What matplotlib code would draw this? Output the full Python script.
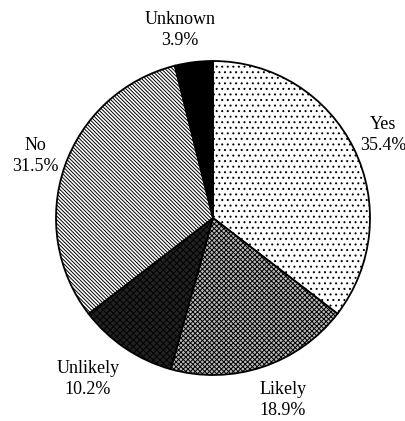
import matplotlib.pyplot as plt

plt.rcParams['font.family'] = ['Liberation Serif', 'DejaVu Serif']
plt.rcParams['hatch.linewidth'] = 0.7

categories = ['Yes', 'Likely', 'Unlikely', 'No', 'Unknown']
shares = [35.4, 18.9, 10.2, 31.5, 3.9]
pct_labels = ['35.4%', '18.9%', '10.2%', '31.5%', '3.9%']

fills = ['white', '#bbbbbb', '#222222', 'white', 'black']
hatches = ['...', 'xxxxxxx', 'xxxxx', '\\' * 9, '']

# label anchor positions in pixel coords (x, y from top)
label_pos = [(383, 135), (283, 400), (88, 379), (35, 156), (180, 30)]

H = 421
fig = plt.figure(figsize=(4.06, 4.21), dpi=100)
ax = fig.add_axes([0, 0, 1, 1])

wedges, _ = ax.pie(shares, startangle=90, counterclock=False, center=(213, H - 218),
                   radius=157, frame=True,
                   wedgeprops=dict(edgecolor='black', linewidth=1.3))
for w, fc, h in zip(wedges, fills, hatches):
    w.set_facecolor(fc)
    w.set_hatch(h)

ax.set_xlim(0, 406)
ax.set_ylim(0, H)
ax.set_aspect('equal')
ax.axis('off')

for name, pct, (x, y) in zip(categories, pct_labels, label_pos):
    ax.text(x, H - y, name + '\n' + pct, ha='center', va='center',
            fontsize=13, linespacing=1.3)

fig.savefig('out.png', dpi=100)
